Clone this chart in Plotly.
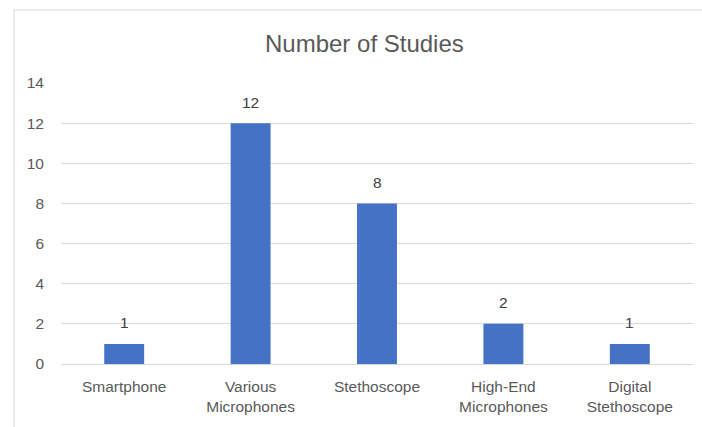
import plotly.graph_objects as go

categories = ["Smartphone", "Various<br>Microphones", "Stethoscope",
              "High-End<br>Microphones", "Digital<br>Stethoscope"]
studies = [1, 12, 8, 2, 1]
y_ticks = [0, 2, 4, 6, 8, 10, 12, 14]

text_color = "#595959"
label_color = "#404040"
grid_color = "#d9d9d9"
bar_color = "#4472C4"
base_font = "Liberation Sans, Arial, sans-serif"

fig = go.Figure(
    go.Bar(
        x=categories,
        y=studies,
        marker=dict(color=bar_color, line=dict(width=0)),
        hoverinfo="x+y",
    )
)

# value labels floating above each bar
value_labels = [
    dict(x=cat, y=val, xref="x", yref="y", text=str(val),
         showarrow=False, yanchor="middle", yshift=21,
         font=dict(family=base_font, size=15.5, color=label_color))
    for cat, val in zip(categories, studies)
]

title_note = dict(
    text="Number of Studies",
    xref="paper", yref="paper",
    x=0.481, y=1.142,
    xanchor="center", yanchor="middle",
    showarrow=False,
    font=dict(family=base_font, size=24, color=text_color),
)

fig.update_layout(
    width=702,
    height=427,
    margin=dict(l=61, r=9, t=83, b=63),
    paper_bgcolor="white",
    plot_bgcolor="white",
    bargap=0.684,
    showlegend=False,
    font=dict(family=base_font, size=15.5, color=text_color),
    xaxis=dict(
        showgrid=False,
        showline=True,
        linecolor=grid_color,
        linewidth=1,
        ticks="",
        ticklabelstandoff=8,
        tickfont=dict(size=15.5, color=text_color),
    ),
    yaxis=dict(
        range=[0, 14],
        tickvals=y_ticks,
        showgrid=True,
        gridcolor=grid_color,
        gridwidth=1,
        zeroline=False,
        showline=False,
        ticks="",
        ticklabelstandoff=16,
        tickfont=dict(size=15.5, color=text_color),
    ),
    annotations=value_labels + [title_note],
    shapes=[
        # chart frame: left and top edges
        dict(type="line", xref="paper", yref="paper",
             x0=-0.0744, x1=-0.0744, y0=1.26, y1=-0.3,
             line=dict(color=grid_color, width=1)),
        dict(type="line", xref="paper", yref="paper",
             x0=-0.0744, x1=1.05, y0=1.26, y1=1.26,
             line=dict(color=grid_color, width=1)),
    ],
)

fig.write_html("out.html")
